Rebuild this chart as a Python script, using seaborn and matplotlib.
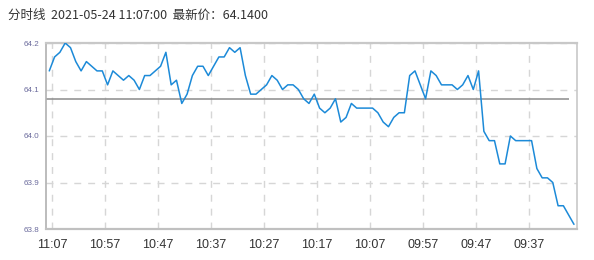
import matplotlib
matplotlib.use("Agg")
import matplotlib.pyplot as plt
import seaborn as sns
import numpy as np
import pandas as pd

# Intraday price, one point per minute, newest on the left
prices = [
    64.14, 64.17, 64.18, 64.20, 64.19, 64.16, 64.14, 64.16, 64.15, 64.14,
    64.14, 64.11, 64.14, 64.13, 64.12, 64.13, 64.12, 64.10, 64.13, 64.13,
    64.14, 64.15, 64.18, 64.11, 64.12, 64.07, 64.09, 64.13, 64.15, 64.15,
    64.13, 64.15, 64.17, 64.17, 64.19, 64.18, 64.19, 64.13, 64.09, 64.09,
    64.10, 64.11, 64.13, 64.12, 64.10, 64.11, 64.11, 64.10, 64.08, 64.07,
    64.09, 64.06, 64.05, 64.06, 64.08, 64.03, 64.04, 64.07, 64.06, 64.06,
    64.06, 64.06, 64.05, 64.03, 64.02, 64.04, 64.05, 64.05, 64.13, 64.14,
    64.11, 64.08, 64.14, 64.13, 64.11, 64.11, 64.11, 64.10, 64.11, 64.13,
    64.10, 64.14, 64.01, 63.99, 63.99, 63.94, 63.94, 64.00, 63.99, 63.99,
    63.99, 63.99, 63.93, 63.91, 63.91, 63.90, 63.85, 63.85, 63.83, 63.81,
]
ref_price = 64.08
tick_labels = ["11:07", "10:57", "10:47", "10:37", "10:27",
               "10:17", "10:07", "09:57", "09:47", "09:37"]
y_ticks = [63.8, 63.9, 64.0, 64.1, 64.2]
title_text = "分时线  2021-05-24 11:07:00  最新价：64.1400"

df = pd.DataFrame({"idx": np.arange(len(prices)), "price": prices})

sns.set_style("white")
plt.rcParams["font.family"] = ["Liberation Sans", "DejaVu Sans"]

fig = plt.figure(figsize=(5.94, 2.60), dpi=100)
ax = fig.add_axes([46 / 594, 1 - 229 / 260, 531 / 594, 186 / 260])

sns.lineplot(data=df, x="idx", y="price", ax=ax, color="#1c8ad8",
             linewidth=1.1, zorder=3)

ax.set_xlim(-0.62, 99.57)
ax.set_ylim(63.8, 64.2)

# reference line (previous close)
ax.hlines(ref_price, -0.62, 98.1, color="#8c8c8c", linewidth=1.1, zorder=2)

xt = [0.5 + 10 * k for k in range(len(tick_labels))]
ax.set_xticks(xt)
ax.set_xticklabels(tick_labels, fontsize=9, color="#333333")
ax.set_yticks(y_ticks)
ax.set_yticklabels([f"{v:.1f}" for v in y_ticks], fontsize=5.8, color="#6a6a9c")
ax.tick_params(axis="x", length=0, pad=7)
ax.tick_params(axis="y", length=0, pad=5)
ax.set_xlabel("")
ax.set_ylabel("")

ax.grid(True, color="#d6d6d6", linestyle=(0, (5, 5)), linewidth=1.0, zorder=1)

for side, sp in ax.spines.items():
    sp.set_visible(True)
    sp.set_color("#c8c8c8")
    sp.set_linewidth(1.2)
ax.spines["left"].set_color("#b0b0b0")
ax.spines["bottom"].set_color("#c0c0c0")
ax.spines["bottom"].set_linewidth(1.6)
ax.spines["top"].set_linewidth(1.6)

fig.text(8 / 594, 1 - 15 / 260, title_text, fontsize=9, color="#333333",
         va="center", ha="left",
         family=["Noto Sans CJK SC", "DejaVu Sans"])

fig.savefig("out.png", dpi=100)
